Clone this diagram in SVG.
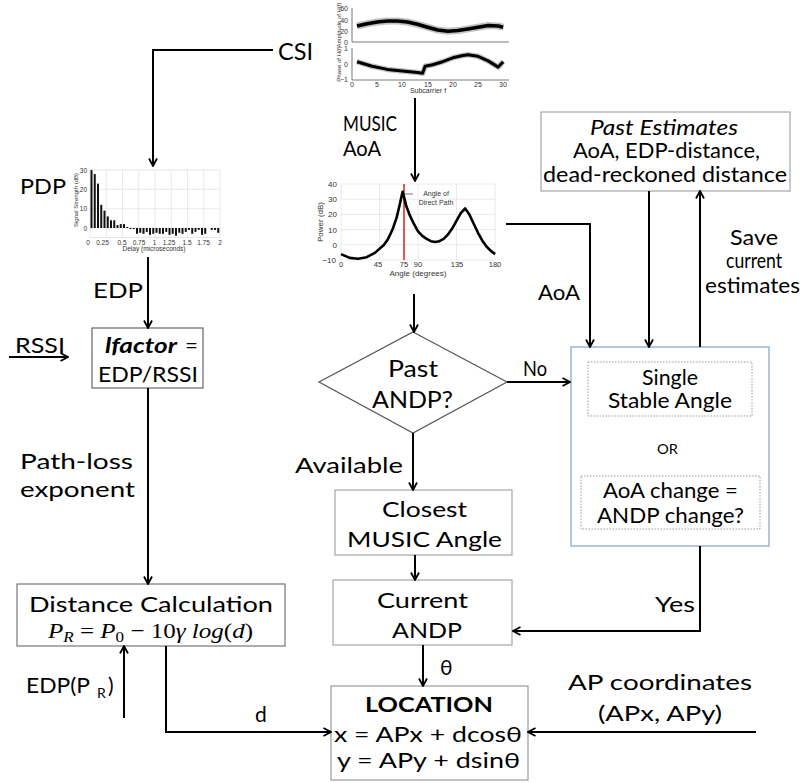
<svg xmlns="http://www.w3.org/2000/svg" width="805" height="783" viewBox="0 0 805 783">
<defs>
<marker id="arr" viewBox="0 0 10 10" refX="9" refY="5" markerWidth="10" markerHeight="10" orient="auto" markerUnits="userSpaceOnUse">
<path d="M1.5,1 L9,5 L1.5,9" fill="none" stroke="#000" stroke-width="1.8"/>
</marker>
<style>
.t{font-family:Lato,"Liberation Sans",sans-serif;font-size:21px;fill:#000}
.mu{font-family:"Liberation Serif",serif;font-size:22px;fill:#000}
.ln{stroke:#000;stroke-width:2;fill:none}
.a{marker-end:url(#arr)}
.box{fill:#fff;stroke:#a6a6a6;stroke-width:1.2}
.dot{fill:none;stroke:#9a9a9a;stroke-width:1;stroke-dasharray:1.5,1.5}
.sm{font-family:"Liberation Sans",Arial,sans-serif;font-size:7px;fill:#333}
.grid{stroke:#e4e4e4;stroke-width:0.8;fill:none}
.ax{stroke:#555;stroke-width:0.8;fill:none}
</style>
</defs>

<!-- CSI plot -->
<g id="csi-plot">
<path class="ax" d="M352,8 V42 H509"/>
<path class="ax" d="M352,48 V80 H509"/>
<text class="sm" x="348" y="10.5" text-anchor="end">60</text>
<text class="sm" x="348" y="22.5" text-anchor="end">40</text>
<text class="sm" x="348" y="33.5" text-anchor="end">20</text>
<text class="sm" x="348" y="44.5" text-anchor="end">0</text>
<text class="sm" x="348" y="51" text-anchor="end">1</text>
<text class="sm" x="348" y="66.5" text-anchor="end">0</text>
<text class="sm" x="348" y="82" text-anchor="end">−1</text>
<text class="sm" x="352" y="87" text-anchor="middle">0</text>
<text class="sm" x="377" y="87" text-anchor="middle">5</text>
<text class="sm" x="402" y="87" text-anchor="middle">10</text>
<text class="sm" x="428" y="87" text-anchor="middle">15</text>
<text class="sm" x="453" y="87" text-anchor="middle">20</text>
<text class="sm" x="478" y="87" text-anchor="middle">25</text>
<text class="sm" x="503" y="87" text-anchor="middle">30</text>
<text class="sm" x="428" y="93" text-anchor="middle">Subcarrier f</text>
<text class="sm" style="font-size:6px" transform="translate(341,25) rotate(-90)" text-anchor="middle">Amplitude of H(f)</text>
<text class="sm" style="font-size:6px" transform="translate(341,64) rotate(-90)" text-anchor="middle">Phase of H(f)</text>
<polyline fill="none" stroke="#9a9a9a" stroke-width="7" stroke-linejoin="round" opacity="0.6" points="357,26 367.1,23.8 377.2,22 387.3,20.9 397.4,20.9 407.4,22 417.5,24.3 427.6,27.2 437.7,30 447.8,31.2 457.8,30.6 467.9,28.9 478,27.2 488.1,25.5 498.2,26 503.2,27.2"/>
<polyline fill="none" stroke="#000" stroke-width="3.5" stroke-linejoin="round" points="357,26 367.1,23.8 377.2,22 387.3,20.9 397.4,20.9 407.4,22 417.5,24.3 427.6,27.2 437.7,30 447.8,31.2 457.8,30.6 467.9,28.9 478,27.2 488.1,25.5 498.2,26 503.2,27.2"/>
<polyline fill="none" stroke="#9a9a9a" stroke-width="5.5" stroke-linejoin="round" opacity="0.6" points="357,61.7 372.2,66.3 387.3,69.4 402.4,71 417.5,72.5 422.6,73.3 425.1,66.3 432.6,64.8 442.7,61.7 452.8,57.8 462.9,55.5 467.9,54.7 478,56.3 488.1,60.9 498.2,67.1 503.2,61.7"/>
<polyline fill="none" stroke="#000" stroke-width="3" stroke-linejoin="round" points="357,61.7 372.2,66.3 387.3,69.4 402.4,71 417.5,72.5 422.6,73.3 425.1,66.3 432.6,64.8 442.7,61.7 452.8,57.8 462.9,55.5 467.9,54.7 478,56.3 488.1,60.9 498.2,67.1 503.2,61.7"/>
</g>

<!-- PDP plot -->
<g id="pdp-plot">
<rect x="90" y="170" width="130" height="67.6" fill="#fff" stroke="#e0e0e0" stroke-width="0.8"/>
<path class="grid" d="M106.25,170V237.6M122.5,170V237.6M138.75,170V237.6M155,170V237.6M171.25,170V237.6M187.5,170V237.6M203.75,170V237.6M90,189.3H220M90,208.7H220M90,228H220"/>
<g fill="#111">
<rect x="90.5" y="170.1" width="2" height="57.9"/>
<rect x="93.75" y="174" width="2" height="54"/>
<rect x="97" y="183.6" width="2" height="44.4"/>
<rect x="100.25" y="204.8" width="2" height="23.2"/>
<rect x="103.5" y="210.6" width="2" height="17.4"/>
<rect x="106.75" y="216.4" width="2" height="11.6"/>
<rect x="110" y="220.3" width="2" height="7.7"/>
<rect x="113.25" y="220.3" width="2" height="7.7"/>
<rect x="116.5" y="225.1" width="2" height="2.9"/>
<rect x="119.75" y="224.1" width="2" height="3.9"/>
<rect x="123" y="224.1" width="2" height="3.9"/>
<rect x="126.25" y="227" width="2" height="1"/>
<rect x="129.5" y="228" width="2" height="1"/>
<rect x="132.75" y="228" width="2" height="1"/>
<rect x="136" y="228" width="2" height="5.8"/>
<rect x="139.25" y="228" width="2" height="4.8"/>
<rect x="142.5" y="228" width="2" height="5.8"/>
<rect x="145.75" y="228" width="2" height="3.9"/>
<rect x="149" y="228" width="2" height="6.8"/>
<rect x="152.25" y="228" width="2" height="5.8"/>
<rect x="155.5" y="228" width="2" height="4.8"/>
<rect x="158.75" y="228" width="2" height="5.8"/>
<rect x="162" y="228" width="2" height="5.8"/>
<rect x="165.25" y="228" width="2" height="3.9"/>
<rect x="168.5" y="228" width="2" height="6.8"/>
<rect x="171.75" y="228" width="2" height="5.8"/>
<rect x="175" y="228" width="2" height="7.7"/>
<rect x="178.25" y="228" width="2" height="4.8"/>
<rect x="181.5" y="228" width="2" height="5.8"/>
<rect x="184.75" y="228" width="2" height="3.9"/>
<rect x="188" y="228" width="2" height="1.9"/>
<rect x="191.25" y="228" width="2" height="5.8"/>
<rect x="194.5" y="228" width="2" height="3.9"/>
<rect x="197.75" y="228" width="2" height="1.9"/>
<rect x="201" y="228" width="2" height="6.8"/>
<rect x="204.25" y="228" width="2" height="5.8"/>
<rect x="210.75" y="228" width="2" height="1.9"/>
<rect x="214" y="228" width="2" height="1.9"/>
<rect x="217.25" y="228" width="2" height="4.8"/>
</g>
<g class="sm" style="font-size:6.5px">
<text x="87" y="172.5" text-anchor="end">30</text>
<text x="87" y="191.5" text-anchor="end">20</text>
<text x="87" y="211" text-anchor="end">10</text>
<text x="87" y="230.5" text-anchor="end">0</text>
<text x="88" y="244.5" text-anchor="middle">0</text>
<text x="102.5" y="244.5" text-anchor="middle">0.25</text>
<text x="122" y="244.5" text-anchor="middle">0.5</text>
<text x="139" y="244.5" text-anchor="middle">0.75</text>
<text x="154.5" y="244.5" text-anchor="middle">1</text>
<text x="169" y="244.5" text-anchor="middle">1.25</text>
<text x="187" y="244.5" text-anchor="middle">1.5</text>
<text x="203.5" y="244.5" text-anchor="middle">1.75</text>
<text x="220" y="244.5" text-anchor="middle">2</text>
<text x="154" y="251" text-anchor="middle">Delay (microseconds)</text>
<text style="font-size:6px" transform="translate(78,200) rotate(-90)" text-anchor="middle">Signal Strength (dB)</text>
</g>
</g>

<!-- AoA (MUSIC) plot -->
<g id="aoa-plot">
<path class="grid" d="M341,184V260M379.5,184V260M418,184V260M456.5,184V260M495,184V260M341,184H495M341,199.2H495M341,214.4H495M341,229.6H495M341,244.8H495M341,260H495"/>
<line x1="404" y1="184" x2="404" y2="260" stroke="#e0301e" stroke-width="1.6"/>
<polyline fill="none" stroke="#000" stroke-width="2.6" stroke-linejoin="round" points="341,254.1 349.6,257.9 358.1,258.7 366.7,257.2 375.2,252.6 383.8,245 388.1,238.9 392.4,229.8 396.6,217.6 399.2,207 400.9,199.4 402.6,191.8 404.3,197.9 406.1,205.5 409.5,214.6 413.8,223.7 418,231.3 422.3,235.9 426.6,238.9 430.9,241.2 435.2,242 439.4,241.2 443.7,238.9 448,234.4 452.3,228.3 456.6,220.7 460.8,213.1 465.1,208.5 469.4,214.6 473.7,223.7 478,232.8 482.2,240.4 486.5,246.5 490.8,250.9 495.1,254.1"/>
<line x1="405" y1="194" x2="413" y2="194" stroke="#333" stroke-width="0.7"/>
<text class="sm" x="436" y="196" text-anchor="middle">Angle of</text>
<text class="sm" x="436" y="205" text-anchor="middle">Direct Path</text>
<g class="sm" style="font-size:8px" text-anchor="end">
<text x="337" y="187">40</text>
<text x="337" y="202">30</text>
<text x="337" y="217">20</text>
<text x="337" y="232.5">10</text>
<text x="337" y="248">0</text>
<text x="336" y="263">−10</text>
</g>
<g class="sm" style="font-size:7.5px" text-anchor="middle">
<text x="341" y="267">0</text>
<text x="378" y="267">45</text>
<text x="404" y="267">75</text>
<text x="418" y="267">90</text>
<text x="457" y="267">135</text>
<text x="495" y="267">180</text>
</g>
<text class="sm" style="font-size:8px" x="418" y="276" text-anchor="middle">Angle (degrees)</text>
<text class="sm" style="font-size:8px" transform="translate(323,222) rotate(-90)" text-anchor="middle">Power (dB)</text>
</g>

<!-- Nodes -->
<g id="lfactor">
<rect x="92" y="328" width="111" height="60" fill="#fff" stroke="#666" stroke-width="1.2"/>
<text class="t" x="105" y="353" style="font-weight:bold;font-style:italic" textLength="72" lengthAdjust="spacingAndGlyphs">lfactor</text>
<text class="t" x="185" y="353" textLength="13" lengthAdjust="spacingAndGlyphs">=</text>
<text class="t" x="98" y="382" textLength="100" lengthAdjust="spacingAndGlyphs">EDP/RSSI</text>
</g>

<g id="distance">
<rect x="17" y="584" width="268" height="62" fill="#fff" stroke="#777" stroke-width="1.2"/>
<text class="t" x="29" y="612" textLength="244" lengthAdjust="spacingAndGlyphs">Distance Calculation</text>
<text class="mu" x="48" y="638" textLength="205" lengthAdjust="spacingAndGlyphs"><tspan font-style="italic">P</tspan><tspan dy="4" font-size="15" font-style="italic">R</tspan><tspan dy="-4"> = </tspan><tspan font-style="italic">P</tspan><tspan dy="4" font-size="15">0</tspan><tspan dy="-4"> − 10</tspan><tspan font-style="italic">γ log</tspan>(<tspan font-style="italic">d</tspan>)</text>
</g>

<g id="past-andp">
<polygon points="413,332 507,382 413,433 319,382" fill="#fff" stroke="#555" stroke-width="1.2"/>
<text class="t" x="388" y="377" style="font-size:23px" textLength="50" lengthAdjust="spacingAndGlyphs">Past</text>
<text class="t" x="372" y="408" style="font-size:23px" textLength="81" lengthAdjust="spacingAndGlyphs">ANDP?</text>
</g>

<g id="closest">
<rect x="335" y="490" width="177" height="65" class="box"/>
<text class="t" x="382" y="517" textLength="85" lengthAdjust="spacingAndGlyphs">Closest</text>
<text class="t" x="347" y="547" textLength="155" lengthAdjust="spacingAndGlyphs">MUSIC Angle</text>
</g>

<g id="current">
<rect x="333" y="580" width="179" height="65" class="box"/>
<text class="t" x="377" y="608" textLength="91" lengthAdjust="spacingAndGlyphs">Current</text>
<text class="t" x="392" y="638" textLength="70" lengthAdjust="spacingAndGlyphs">ANDP</text>
</g>

<g id="location">
<rect x="331" y="686" width="197" height="94" fill="#fff" stroke="#999" stroke-width="1.2"/>
<text class="t" x="365" y="712" style="font-weight:bold" textLength="128" lengthAdjust="spacingAndGlyphs">LOCATION</text>
<text class="t" x="334" y="742" textLength="188" lengthAdjust="spacingAndGlyphs">x = APx + dcosθ</text>
<text class="t" x="337" y="768" textLength="183" lengthAdjust="spacingAndGlyphs">y = APy + dsinθ</text>
</g>

<g id="past-estimates">
<rect x="541" y="112" width="249" height="79" class="box"/>
<text class="t" x="590" y="135" style="font-style:italic" textLength="148" lengthAdjust="spacingAndGlyphs">Past Estimates</text>
<text class="t" x="573" y="158" textLength="187" lengthAdjust="spacingAndGlyphs">AoA, EDP-distance,</text>
<text class="t" x="543" y="182" textLength="244" lengthAdjust="spacingAndGlyphs">dead-reckoned distance</text>
</g>

<g id="check">
<rect x="571" y="347" width="198" height="199" fill="#fff" stroke="#9db3cf" stroke-width="1.5"/>
<rect x="588" y="362" width="164" height="54" class="dot"/>
<text class="t" x="642" y="385" textLength="56" lengthAdjust="spacingAndGlyphs">Single</text>
<text class="t" x="608" y="408" textLength="124" lengthAdjust="spacingAndGlyphs">Stable Angle</text>
<text class="t" x="657" y="454" style="font-size:13px" textLength="21" lengthAdjust="spacingAndGlyphs">OR</text>
<rect x="581" y="476" width="179" height="53" class="dot"/>
<text class="t" x="603" y="498" textLength="135" lengthAdjust="spacingAndGlyphs">AoA change =</text>
<text class="t" x="597" y="523" textLength="147" lengthAdjust="spacingAndGlyphs">ANDP change?</text>
</g>

<!-- Free labels -->
<g id="labels">
<text class="t" x="278" y="60" style="font-size:23px" textLength="35" lengthAdjust="spacingAndGlyphs">CSI</text>
<text class="t" x="343" y="131" textLength="54" lengthAdjust="spacingAndGlyphs">MUSIC</text>
<text class="t" x="343" y="156" textLength="38" lengthAdjust="spacingAndGlyphs">AoA</text>
<text class="t" x="20" y="194" textLength="46" lengthAdjust="spacingAndGlyphs">PDP</text>
<text class="t" x="93" y="298" textLength="50" lengthAdjust="spacingAndGlyphs">EDP</text>
<text class="t" x="15" y="353" textLength="50" lengthAdjust="spacingAndGlyphs">RSSI</text>
<text class="t" x="20" y="469" textLength="113" lengthAdjust="spacingAndGlyphs">Path-loss</text>
<text class="t" x="20" y="497" textLength="115" lengthAdjust="spacingAndGlyphs">exponent</text>
<text class="t" x="26" y="693" textLength="64" lengthAdjust="spacingAndGlyphs">EDP(P</text>
<text class="t" x="97" y="698" style="font-size:14px">R</text>
<text class="t" x="108" y="693">)</text>
<text class="t" x="255" y="722">d</text>
<text class="t" x="440" y="675">θ</text>
<text class="t" x="655" y="612" textLength="40" lengthAdjust="spacingAndGlyphs">Yes</text>
<text class="t" x="568" y="690" textLength="184" lengthAdjust="spacingAndGlyphs">AP coordinates</text>
<text class="t" x="598" y="721" textLength="124" lengthAdjust="spacingAndGlyphs">(APx, APy)</text>
<text class="t" x="523" y="376" textLength="24" lengthAdjust="spacingAndGlyphs">No</text>
<text class="t" x="295" y="473" textLength="108" lengthAdjust="spacingAndGlyphs">Available</text>
<text class="t" x="538" y="300" textLength="42" lengthAdjust="spacingAndGlyphs">AoA</text>
<text class="t" x="730" y="245" textLength="48" lengthAdjust="spacingAndGlyphs">Save</text>
<text class="t" x="726" y="268" textLength="56" lengthAdjust="spacingAndGlyphs">current</text>
<text class="t" x="705" y="293" textLength="95" lengthAdjust="spacingAndGlyphs">estimates</text>
</g>

<!-- Connectors -->
<g id="connectors">
<polyline class="ln a" points="273,50 153,50 153,166"/>
<line class="ln a" x1="415" y1="98" x2="415" y2="181"/>
<line class="ln a" x1="414" y1="294" x2="414" y2="332"/>
<polyline class="ln a" points="506,224 590,224 590,347"/>
<line class="ln a" x1="649" y1="191" x2="649" y2="347"/>
<line class="ln a" x1="700" y1="347" x2="700" y2="191"/>
<polyline class="ln a" points="700,546 700,631 513,631"/>
<line class="ln a" x1="507" y1="382" x2="570" y2="382"/>
<line class="ln a" x1="413" y1="433" x2="413" y2="490"/>
<line class="ln a" x1="415" y1="555" x2="415" y2="580"/>
<line class="ln a" x1="423" y1="645" x2="423" y2="686"/>
<line class="ln a" x1="148" y1="257" x2="148" y2="328"/>
<line class="ln a" x1="148" y1="388" x2="148" y2="584"/>
<line class="ln a" x1="9" y1="357" x2="68" y2="357"/>
<line class="ln a" x1="124" y1="718" x2="124" y2="646"/>
<polyline class="ln a" points="166,646 166,732 331,732"/>
<line class="ln a" x1="756" y1="732" x2="528" y2="732"/>
</g>
</svg>
